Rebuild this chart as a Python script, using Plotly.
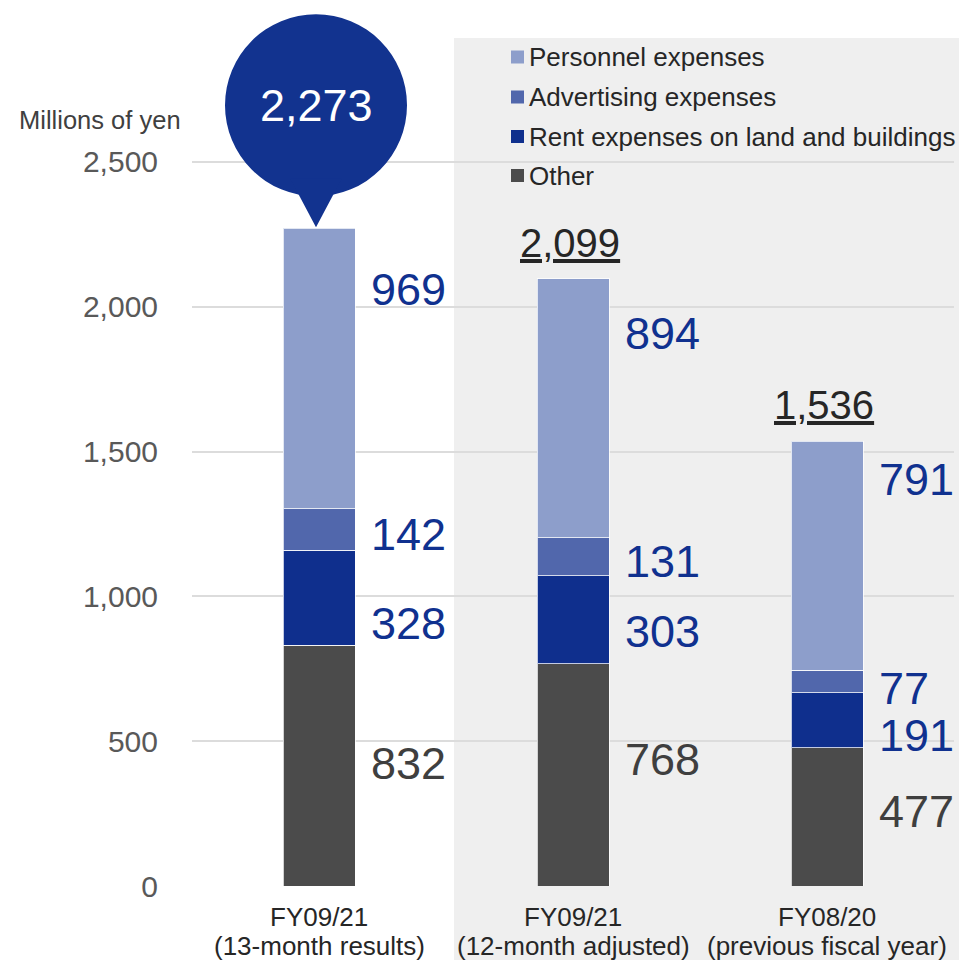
import plotly.graph_objects as go

# ---- data -------------------------------------------------------------
period_names = ["FY09/21", "FY09/21", "FY08/20"]
period_notes = ["(13-month results)", "(12-month adjusted)", "(previous fiscal year)"]
series_names = ["Other",
                "Rent expenses on land and buildings",
                "Advertising expenses",
                "Personnel expenses"]
other = [832, 768, 477]
rent = [328, 303, 191]
advertising = [142, 131, 77]
personnel = [969, 894, 791]
totals = [2273, 2099, 1536]
y_ticks = [0, 500, 1000, 1500, 2000, 2500]
y_unit = "Millions of yen"

# ---- style ------------------------------------------------------------
FONT = "Liberation Sans, Arial, Helvetica, sans-serif"
bar_colors = ["#4B4B4B", "#0F2F8D", "#5167AC", "#8D9ECB"]
label_colors = ["#3F3F3F", "#10318F", "#10318F", "#10318F"]
BUBBLE = "#12338F"
W, H = 959, 960
ML, MR, MT, MB = 192, 5, 0, 74
PW, PH = W - ML - MR, H - MT - MB
Y_TOP = 3059.0          # axis top, leaves headroom above 2,500 for the bubble
BAR_W = 0.2835

# vertical pixel nudges for each segment label (per series, per bar)
label_shift = [
    [2, 15, 5],      # Other
    [-26, -12, -15],  # Rent
    [-5, -5, -7],     # Advertising
    [79, 75, 76],     # Personnel
]


def px_x(px):
    return (px - ML) / PW


def px_y(py):
    return (MT + PH - py) / PH


x = list(range(len(period_names)))
stack = [other, rent, advertising, personnel]

fig = go.Figure()
for name, vals, col in zip(series_names, stack, bar_colors):
    fig.add_trace(go.Bar(
        x=x, y=vals, name=name, width=BAR_W,
        marker=dict(color=col, line=dict(color="rgba(255,255,255,0.75)", width=1)),
        showlegend=False, hoverinfo="skip",
    ))

shapes = []
annotations = []

# shaded comparison region behind the two right-hand bars
shapes.append(dict(type="rect", xref="paper", yref="paper",
                   x0=px_x(454), x1=px_x(W + 2), y0=px_y(H + 2), y1=px_y(38),
                   fillcolor="#EFEFEF", line=dict(width=0), layer="below"))

# segment value labels beside each bar
bases = [0, 0, 0]
for s, (vals, col) in enumerate(zip(stack, label_colors)):
    for i, v in enumerate(vals):
        mid = bases[i] + v / 2
        annotations.append(dict(
            x=i, y=mid, xref="x", yref="y", text=f"{v:,}", showarrow=False,
            xanchor="left", yanchor="middle", xshift=BAR_W / 2 * 254 + 14,
            yshift=label_shift[s][i],
            font=dict(family=FONT, size=45, color=col)))
        bases[i] += v

# highlighted total of the first bar, in a speech bubble
tops = bases
annotations.append(dict(
    x=0, y=tops[0], xref="x", yref="y", text=f"{totals[0]:,}", showarrow=False,
    xanchor="center", yanchor="middle", yshift=123, xshift=-3,
    font=dict(family=FONT, size=45, color="white")))
shapes.append(dict(type="circle", xref="x", yref="y", xsizemode="pixel",
                   ysizemode="pixel", xanchor=0, yanchor=tops[0],
                   x0=-94, x1=88, y0=123 - 91, y1=123 + 91,
                   fillcolor=BUBBLE, line=dict(width=0), layer="above"))
shapes.append(dict(type="path", xref="x", yref="y", xsizemode="pixel",
                   ysizemode="pixel", xanchor=0, yanchor=tops[0],
                   path="M-29,50 L23,50 L-3,1 Z",
                   fillcolor=BUBBLE, line=dict(width=0), layer="above"))

# underlined totals above the other bars
for i in (1, 2):
    annotations.append(dict(
        x=i, y=tops[i], xref="x", yref="y", text=f"{totals[i]:,}",
        showarrow=False, xanchor="center", yanchor="bottom", yshift=12, xshift=-3,
        font=dict(family=FONT, size=40, color="#262626", lineposition="under")))

# unit label
annotations.append(dict(
    x=px_x(183), y=px_y(120), xref="paper", yref="paper", text=y_unit,
    showarrow=False, xanchor="right", yanchor="middle",
    font=dict(family=FONT, size=25.5, color="#404040")))

# category labels (two lines each) under the bars
for i, (nm, note) in enumerate(zip(period_names, period_notes)):
    for txt, row in ((nm, 916.5), (note, 946.5)):
        annotations.append(dict(
            x=i, y=px_y(row), xref="x", yref="paper", text=txt,
            showarrow=False, xanchor="center", yanchor="middle",
            font=dict(family=FONT, size=26, color="#262626")))

# legend (top to bottom: reverse of stacking order)
leg_rows = [57, 97, 136.5, 175.5]
for row, name, col in zip(leg_rows, series_names[::-1], bar_colors[::-1]):
    shapes.append(dict(type="rect", xref="paper", yref="paper",
                       x0=px_x(511), x1=px_x(524), y0=px_y(row + 6.5), y1=px_y(row - 6.5),
                       fillcolor=col, line=dict(width=0)))
    annotations.append(dict(
        x=px_x(527), y=px_y(row), xref="paper", yref="paper", text=name,
        showarrow=False, xanchor="left", yanchor="middle",
        font=dict(family=FONT, size=26, color="#262626")))

fig.update_layout(
    width=W, height=H,
    margin=dict(l=ML, r=MR, t=MT, b=MB, pad=0),
    barmode="stack",
    paper_bgcolor="white", plot_bgcolor="rgba(0,0,0,0)",
    shapes=shapes, annotations=annotations,
    showlegend=False,
    font=dict(family=FONT),
)
fig.update_xaxes(
    range=[-0.5, 2.5], showticklabels=False,
    showgrid=False, zeroline=False, showline=False, ticks="",
)
fig.update_yaxes(
    range=[0, Y_TOP], tickvals=y_ticks, ticktext=[f"{t:,}" for t in y_ticks],
    showgrid=True, gridcolor="#DCDCDC", gridwidth=2,
    zeroline=False, showline=False, ticks="",
    tickfont=dict(family=FONT, size=30, color="#595959"),
    ticklabelstandoff=33,
)

fig.write_html("out.html")
